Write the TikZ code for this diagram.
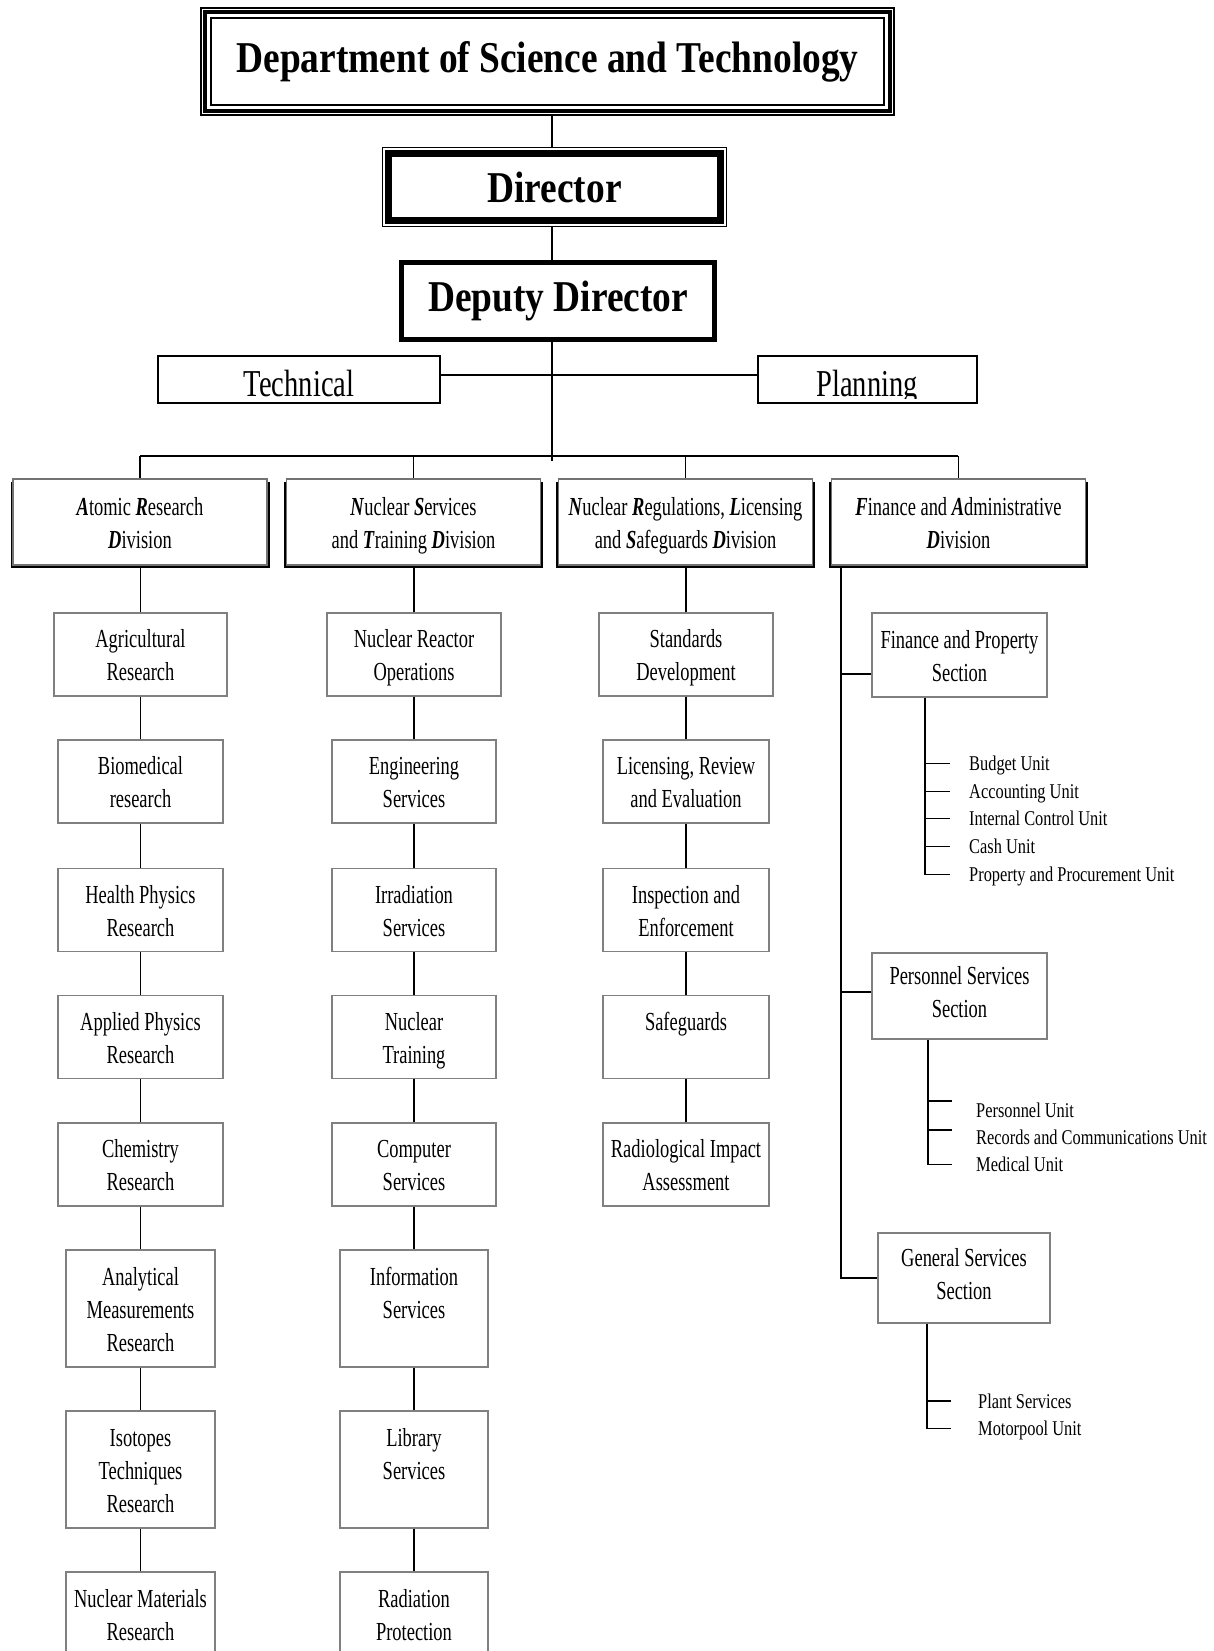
\documentclass[tikz,border=0pt]{standalone}
\usepackage{fontspec}
\setmainfont{Liberation Serif}
\newfontfamily\condfont[FakeStretch=0.71]{Liberation Serif}
\newfontfamily\unitfont[FakeStretch=0.78]{Liberation Serif}
\newfontfamily\techfont[FakeStretch=0.75]{Liberation Serif}
\newfontfamily\titlefont[FakeStretch=0.85]{Liberation Serif}
\usetikzlibrary{calc}
\newcommand\BIt[1]{\textbf{\textit{#1}}}
\newcommand\xdepth{\rule[-20pt]{0pt}{1pt}}
\newcommand\ts{\rule{0pt}{29pt}}
\begin{document}
\begin{tikzpicture}[x=1pt,y=-1pt,
  conn/.style={draw=black, line width=1.25pt},
  sub/.style={draw=black!50, line width=1.3pt, fill=white, align=center, inner sep=0pt,
    font=\condfont\fontsize{26}{33}\selectfont},
  divbox/.style={draw=black!55, line width=1.2pt, fill=white, align=center, inner sep=0pt,
    minimum width=254pt, minimum height=86pt, font=\condfont\fontsize{26}{33}\selectfont},
  shadowfill/.style={fill=black},
  unit/.style={anchor=west, inner sep=0pt, font=\unitfont\fontsize{21}{27}\selectfont},
  title/.style={inner sep=0pt, font=\titlefont\bfseries\fontsize{44}{50}\selectfont},
  side/.style={draw=black, line width=1.5pt, minimum width=282pt, minimum height=47pt, inner sep=0pt},
  sidetext/.style={anchor=base, inner sep=0pt, font=\techfont\fontsize{38}{44}\selectfont},
  wA/.style={minimum width=#1pt, minimum height=83pt},
  wB/.style={minimum width=#1pt, minimum height=117pt}
]
\useasboundingbox (0,0) rectangle (1213,1651);
\clip (0,0) rectangle (1213,1651);

% ---------- top ----------
\node[title, draw, line width=2.2pt, minimum width=693pt, minimum height=107pt] (dost) at (547.5,61.5)
  {Department of Science and Technology};
\draw[line width=4.5pt] ($(dost.north west)+(5.3,5.3)$) rectangle ($(dost.south east)+(-5.3,-5.3)$);
\draw[line width=2pt] ($(dost.north west)+(11.5,11.5)$) rectangle ($(dost.south east)+(-11.5,-11.5)$);

\node[title, draw, line width=1.2pt, minimum width=344pt, minimum height=79pt] (dir) at (554.5,187) {Director};
\draw[line width=7pt] ($(dir.north west)+(7,7)$) rectangle ($(dir.south east)+(-7,-7)$);

\node[title, draw, line width=5pt, minimum width=313pt, minimum height=77pt] (dd) at (558,301) {Deputy Director};

\node[side] (tech) at (299,379.5) {};
\node[side, minimum width=219pt] (plan) at (867.5,379.5) {};
\begin{scope}
  \clip (tech.north west) rectangle ($(plan.south east)+(0,-5)$);
  \node[sidetext] (techt) at (299,396) {Technical};
  \node[sidetext] (plant) at (867,396) {Planning};
\end{scope}

\coordinate (tr) at (552,0);
\coordinate (hl) at (0,375);
\coordinate (busL) at (140,456);
\coordinate (busR) at (958,456);
\draw[conn] (dost.south -| tr) -- (dir.north -| tr);
\draw[conn] (dir.south -| tr) -- (dd.north -| tr);
\draw[conn] (dd.south -| tr) -- ($(tr |- busL)+(0,5)$);
\draw[conn] (tech.east |- hl) -- (plan.west |- hl);
\draw[conn] (busL) -- (busR);

% ---------- divisions ----------
\fill[shadowfill] (10.5,482) rectangle (269.5,568);
\fill[shadowfill] (284,482) rectangle (543,568);
\fill[shadowfill] (556,482) rectangle (815,568);
\fill[shadowfill] (829,482) rectangle (1088,568);
\node[divbox] (ard) at (140,522) {\ts\BIt{A}tomic \BIt{R}esearch\\\BIt{D}ivision\strut};
\node[divbox] (nstd) at (413.5,522) {\ts\BIt{N}uclear \BIt{S}ervices\\and \BIt{T}raining \BIt{D}ivision\strut};
\node[divbox] (nrl) at (685.5,522) {\ts\BIt{N}uclear \BIt{R}egulations, \BIt{L}icensing\\and \BIt{S}afeguards \BIt{D}ivision\strut};
\node[divbox] (fad) at (958.5,522) {\ts\BIt{F}inance and \BIt{A}dministrative\\\BIt{D}ivision\strut};
\foreach \d in {ard,nstd,nrl,fad} \draw[conn] (\d.north) -- (\d.north |- busL);

% ---------- column 1 ----------
\node[sub, wA=173] (a1) at (140.5,654.5) {\ts Agricultural\\Research\strut};
\node[sub, wA=165] (a2) at (140.5,781.5) {\ts Biomedical\\research\strut};
\node[sub, wA=165] (a3) at (140.5,910) {\ts Health Physics\\Research\strut};
\node[sub, wA=165] (a4) at (140.5,1037) {\ts Applied Physics\\Research\strut};
\node[sub, wA=165] (a5) at (140.5,1164.5) {\ts Chemistry\\Research\strut};
\node[sub, wB=149] (a6) at (140.5,1308.5) {\ts Analytical\\Measurements\\Research\strut};
\node[sub, wB=149] (a7) at (140.5,1469.5) {\ts Isotopes\\Techniques\\Research\strut};
\node[sub, wB=149] (a8) at (140.5,1630.5) {\ts Nuclear Materials\\Research\\\strut};

% ---------- column 2 ----------
\node[sub, wA=174] (b1) at (414,654.5) {\ts Nuclear Reactor\\Operations\strut};
\node[sub, wA=164] (b2) at (414,781.5) {\ts Engineering\\Services\strut};
\node[sub, wA=164] (b3) at (414,910) {\ts Irradiation\\Services\strut};
\node[sub, wA=164] (b4) at (414,1037) {\ts Nuclear\\Training\strut};
\node[sub, wA=164] (b5) at (414,1164.5) {\ts Computer\\Services\strut};
\node[sub, wB=148] (b6) at (414,1308.5) {\ts Information\\Services\\\strut};
\node[sub, wB=148] (b7) at (414,1469.5) {\ts Library\\Services\\\strut};
\node[sub, wB=148] (b8) at (414,1630.5) {\ts Radiation\\Protection\\\strut};

% ---------- column 3 ----------
\node[sub, wA=174] (c1) at (686,654.5) {\ts Standards\\Development\strut};
\node[sub, wA=166] (c2) at (686,781.5) {\ts Licensing, Review\\and Evaluation\strut};
\node[sub, wA=166] (c3) at (686,910) {\ts Inspection and\\Enforcement\strut};
\node[sub, wA=166] (c4) at (686,1037) {\ts Safeguards\\\strut};
\node[sub, wA=166] (c5) at (686,1164.5) {\ts Radiological Impact\\Assessment\strut};

\draw[conn] (a1.north) -- (a1.north |- ard.south);
\draw[conn] (b1.north) -- (b1.north |- nstd.south);
\draw[conn] (c1.north) -- (c1.north |- nrl.south);
\foreach \p/\q in {a1/a2,a2/a3,a3/a4,a4/a5,a5/a6,a6/a7,a7/a8,
                   b1/b2,b2/b3,b3/b4,b4/b5,b5/b6,b6/b7,b7/b8,
                   c1/c2,c2/c3,c3/c4,c4/c5}
  \draw[conn] (\p.south) -- (\q.north);

% ---------- column 4 ----------
\coordinate (fx) at (841,0);
\node[sub, minimum width=175pt, minimum height=84pt] (fp) at (959.5,655) {\ts Finance and Property\\Section\strut};
\node[sub, minimum width=175pt, minimum height=86pt] (ps) at (959.5,996) {\ts Personnel Services\\Section\strut\xdepth};
\node[sub, minimum width=172pt, minimum height=90pt] (gs) at (964,1278) {\ts General Services\\Section\strut\xdepth};

\draw[conn] (fad.south -| fx) -- (fx |- gs.west) -- (gs.west);
\draw[conn] ($(fp.west)+(0,19)$) -- ($(fp.west -| fx)+(0,19)$);
\draw[conn] ($(ps.west)+(0,-4)$) -- ($(ps.west -| fx)+(0,-4)$);

% finance units
\coordinate (fv) at (925,0);
\node[unit] (u1) at (969,765) {\strut Budget Unit};
\node[unit] (u2) at (969,793) {\strut Accounting Unit};
\node[unit] (u3) at (969,820) {\strut Internal Control Unit};
\node[unit] (u4) at (969,848) {\strut Cash Unit};
\node[unit] (u5) at (969,876) {\strut Property and Procurement Unit};
\draw[conn] (fp.south -| fv) -- ($(fv |- u5)+(0,-1)$);
\foreach \u in {u1,u2,u3,u4,u5} \draw[conn] ($(fv |- \u)+(0,-1.5)$) -- ++(25,0);

% personnel units
\coordinate (pv) at (928,0);
\node[unit] (p1) at (976,1112) {\strut Personnel Unit};
\node[unit] (p2) at (976,1139) {\strut Records and Communications Unit};
\node[unit] (p3) at (976,1166) {\strut Medical Unit};
\draw[conn] (ps.south -| pv) -- ($(pv |- p3)+(0,-1)$);
\draw[conn] ($(pv |- p1)+(0,-11)$) -- ++(24,0);
\draw[conn] ($(pv |- p2)+(0,-9)$) -- ++(24,0);
\draw[conn] ($(pv |- p3)+(0,-1.5)$) -- ++(24,0);

% general services units
\coordinate (gv) at (927,0);
\node[unit] (g1) at (978,1403) {\strut Plant Services};
\node[unit] (g2) at (978,1430) {\strut Motorpool Unit};
\draw[conn] (gs.south -| gv) -- ($(gv |- g2)+(0,-1)$);
\draw[conn] ($(gv |- g1)+(0,-2)$) -- ++(24,0);
\draw[conn] ($(gv |- g2)+(0,-1.5)$) -- ++(24,0);
\end{tikzpicture}
\end{document}
